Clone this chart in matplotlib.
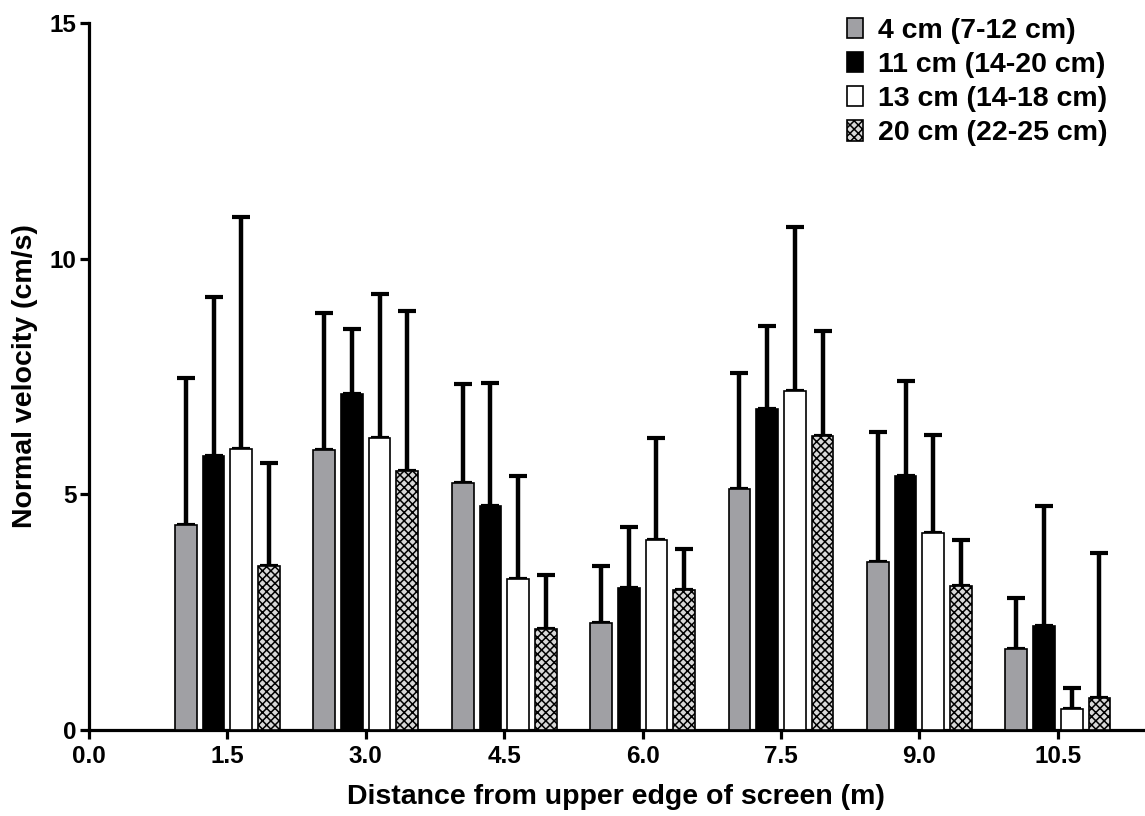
import matplotlib
matplotlib.use("Agg")
import matplotlib.pyplot as plt
import numpy as np
from matplotlib.patches import Patch

plt.rcParams['font.family'] = ['Liberation Sans', 'DejaVu Sans']
plt.rcParams['font.weight'] = 'bold'
plt.rcParams['hatch.linewidth'] = 1.1

positions = [1.5, 3.0, 4.5, 6.0, 7.5, 9.0, 10.5]
tick_vals = [0.0, 1.5, 3.0, 4.5, 6.0, 7.5, 9.0, 10.5]
tick_labels = ["0.0", "1.5", "3.0", "4.5", "6.0", "7.5", "9.0", "10.5"]

series_names = ["4 cm (7-12 cm)", "11 cm (14-20 cm)", "13 cm (14-18 cm)", "20 cm (22-25 cm)"]

means_4cm = [4.34, 5.95, 5.24, 2.27, 5.12, 3.57, 1.71]
tops_4cm = [7.46, 8.84, 7.34, 3.49, 7.58, 6.32, 2.81]
means_11cm = [5.82, 7.12, 4.76, 3.02, 6.82, 5.38, 2.20]
tops_11cm = [9.19, 8.50, 7.36, 4.30, 8.57, 7.40, 4.76]
means_13cm = [5.97, 6.20, 3.20, 4.04, 7.19, 4.17, 0.45]
tops_13cm = [10.88, 9.25, 5.38, 6.20, 10.68, 6.26, 0.89]
means_20cm = [3.48, 5.49, 2.15, 2.96, 6.23, 3.05, 0.67]
tops_20cm = [5.66, 8.90, 3.29, 3.84, 8.47, 4.04, 3.75]

means = [means_4cm, means_11cm, means_13cm, means_20cm]
tops = [tops_4cm, tops_11cm, tops_13cm, tops_20cm]
faces = ['#a0a0a4', '#000000', '#ffffff', '#d8d8d8']
hatches = [None, None, None, 'xxxx']

fig = plt.figure(figsize=(11.45, 8.16), dpi=100)
ax = fig.add_axes([0.0777, 0.1054, 0.9203, 0.8664])

width = 0.235
offsets = [-0.45, -0.15, 0.15, 0.45]
x = np.array(positions)
for i in range(4):
    m = np.array(means[i])
    t = np.array(tops[i])
    ax.bar(x + offsets[i], m, width=width, color=faces[i], edgecolor='black',
           linewidth=1.2, hatch=hatches[i], zorder=3)
    ax.errorbar(x + offsets[i], m, yerr=[np.zeros_like(m), t - m], fmt='none',
                ecolor='black', elinewidth=3.2, capsize=6.5, capthick=3.0, zorder=2)

ax.set_xlim(0, 11.42)
ax.set_ylim(0, 15)
ax.set_xticks(tick_vals)
ax.set_xticklabels(tick_labels)
ax.set_yticks([0, 5, 10, 15])
ax.set_yticklabels(["0", "5", "10", "15"])
for s in ['top', 'right']:
    ax.spines[s].set_visible(False)
for s in ['left', 'bottom']:
    ax.spines[s].set_linewidth(2.3)
ax.tick_params(axis='both', direction='out', length=6.5, width=2.3, labelsize=17.5, pad=2.5)
ax.tick_params(axis='x', pad=4)
for lbl in ax.get_xticklabels() + ax.get_yticklabels():
    lbl.set_fontweight('bold')

ax.set_xlabel("Distance from upper edge of screen (m)", fontsize=20.5, fontweight='bold', labelpad=12)
ax.set_ylabel("Normal velocity (cm/s)", fontsize=20.5, fontweight='bold', labelpad=8)

handles = [Patch(facecolor=faces[i], edgecolor='black', linewidth=1.2, hatch=hatches[i]) for i in range(4)]
leg = ax.legend(handles, series_names, loc='upper right',
                bbox_to_anchor=(1107 / 1145, 1 - 18 / 816), bbox_transform=fig.transFigure,
                frameon=False, handlelength=0.58, handleheight=0.72,
                handletextpad=0.5, labelspacing=0.28, borderpad=0, borderaxespad=0,
                prop={'weight': 'bold', 'size': 20.5})

fig.savefig("out.png", dpi=100)
